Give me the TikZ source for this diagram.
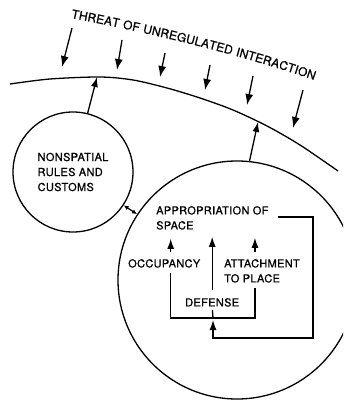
\documentclass[tikz,border=0pt]{standalone}
\usepackage{fontspec}
\setmainfont{TeX Gyre Heros}[LetterSpace=3,FakeBold=0.8]
\usetikzlibrary{arrows.meta}
\usetikzlibrary{decorations.text}
\tikzset{
  >=latex, % default arrow head
  wire/.style={line width=1.3pt,black},
  flow/.style={wire,-{Latex[length=10pt,width=7pt]}},
  threat/.style={wire,-{Latex[length=11pt,width=8pt]}},
  ring/.style={wire,circle,draw,inner sep=0pt},
  txt/.style={inner sep=0pt,align=left,font=\fontsize{11}{15}\selectfont}
}

\begin{document}
\begin{tikzpicture}[x=1pt,y=-1pt]
  \useasboundingbox (0,0) rectangle (343,403);
  \clip (0,0) rectangle (343,403);

  % outer boundary and the pressure on it
  \draw[wire] plot[smooth] coordinates {(10,84) (50,79) (100,77) (133,80) (167,88) (200,98) (233,110) (267,126) (300,145) (338,171)};
  \coordinate (hitA) at (97,77);
  \coordinate (hitB) at (258,122);

  \path[decorate,decoration={text along path,text align={fit to path},
    text={|\fontsize{12}{14}\selectfont|THREAT OF UNREGULATED INTERACTION}}]
    (71,18) .. controls (150,33) and (235,53) .. (314,80);

  \foreach \sx/\sy/\ex/\ey in {72/28/62/67, 122/40/117/70, 165/53/160/77,
                               210/65/205/90, 253/76/247/105, 303/90/293/128}
    \draw[threat] (\sx,\sy) -- (\ex,\ey);

  % the two circles
  \node[ring,txt,minimum size=120pt] (rules) at (73,172) {NONSPATIAL\\RULES AND\\CUSTOMS};
  \node[ring,minimum size=238pt] (space) at (237,280) {};

  \draw[wire,{Latex[length=5pt,width=4.5pt]}-{Latex[length=5pt,width=4.5pt]}] (rules) -- (space);
  \draw[flow] (rules.76) -- (hitA);
  \draw[flow] (space.84) -- (hitB);

  % inside the big circle
  \node[txt,anchor=north west] (appr) at (156,206) {APPROPRIATION OF\\SPACE};
  \node[txt,anchor=north west] (occ) at (128,259) {OCCUPANCY};
  \node[txt,anchor=north west] (att) at (224,259) {ATTACHMENT\\TO PLACE};
  \node[txt,anchor=north west] (def) at (185,298) {DEFENSE};

  \coordinate (occtop) at ([xshift=6.5pt]occ.north);
  \coordinate (atttop) at ([xshift=-7pt]att.north);
  \draw[flow,shorten <=7pt,shorten >=9pt] (occtop) -- (occtop |- appr.south);
  \draw[flow,shorten <=8pt,shorten >=7pt] (def.north) -- (def.north |- appr.south);
  \draw[flow,shorten <=7pt,shorten >=8pt] (atttop) -- (atttop |- appr.south);

  \coordinate (occbot) at ([xshift=6.5pt,yshift=-5pt]occ.south);
  \coordinate (attbot) at ([xshift=-7pt,yshift=-5pt]att.south);
  \coordinate (join) at (213,318);
  \draw[wire] (occbot) |- (join) -| (attbot);
  \draw[wire,shorten <=3pt] (def.south) -- (join);

  \coordinate (fbstart) at ([xshift=9pt,yshift=-11pt]appr.north east);
  \coordinate (fbcorner) at (313,338);
  \draw[flow,shorten >=2pt] (fbstart) -| (fbcorner) -| (join);
\end{tikzpicture}
\end{document}
